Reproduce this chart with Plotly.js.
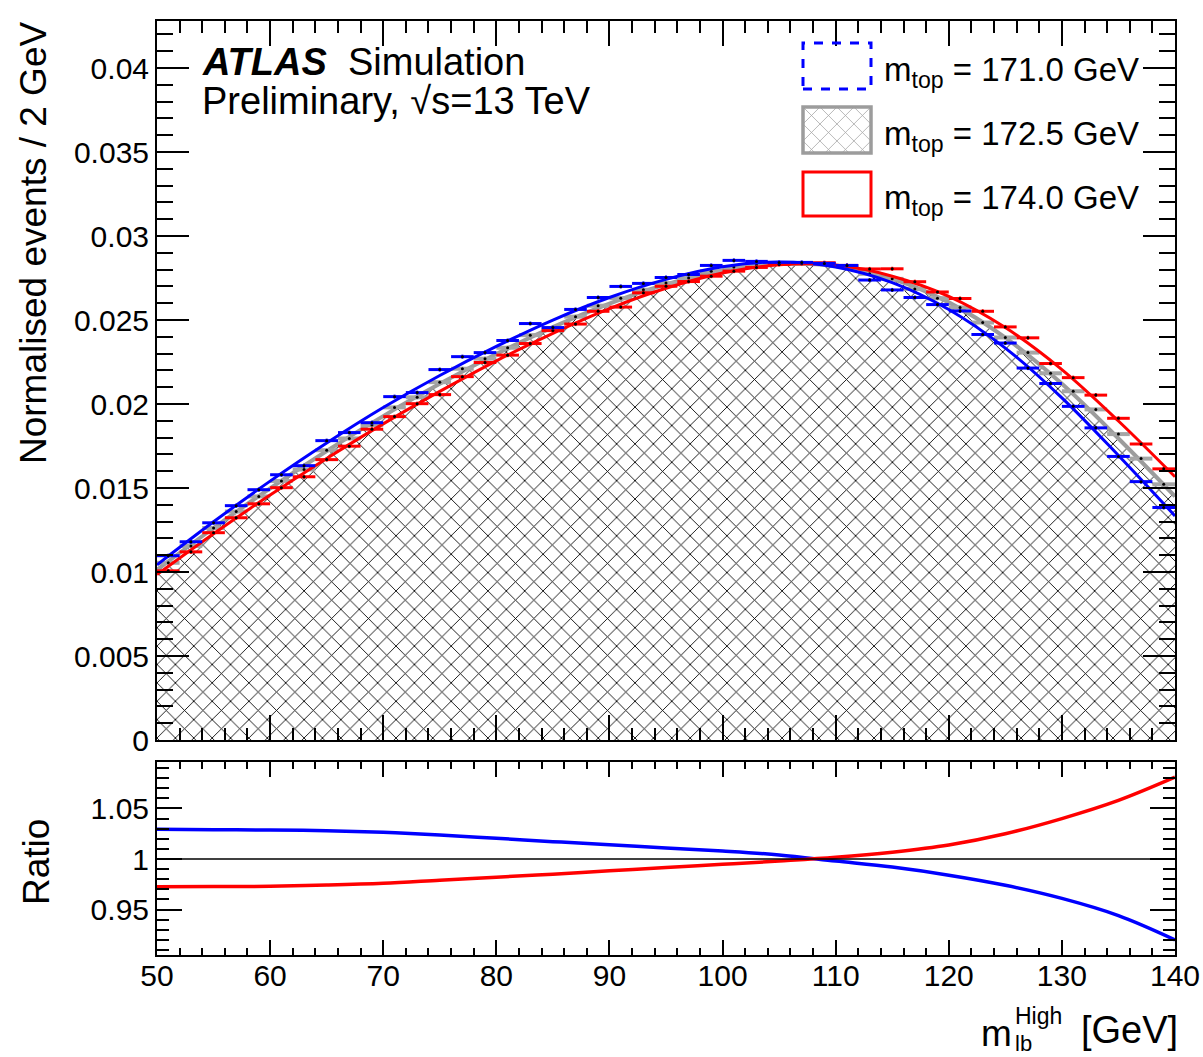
<!DOCTYPE html>
<html><head><meta charset="utf-8">
<script src="https://cdn.plot.ly/plotly-3.0.1.min.js"></script>
<style>html,body{margin:0;padding:0;background:#fff}</style>
</head><body><div id="chart" style="width:1203px;height:1057px"></div>
<script>
// ---------- data ----------
const binCenters = [51,53,55,57,59,61,63,65,67,69,71,73,75,77,79,81,83,85,87,89,91,93,95,97,99,101,103,105,107,109,111,113,115,117,119,121,123,125,127,129,131,133,135,137,139];
const halfBinWidth = 1;
const blue171 = [0.01097,0.01180,0.01293,0.01395,0.01490,0.01579,0.01633,0.01782,0.01830,0.01889,0.02044,0.02068,0.02205,0.02282,0.02306,0.02378,0.02479,0.02455,0.02563,0.02634,0.02700,0.02718,0.02753,0.02771,0.02825,0.02855,0.02849,0.02843,0.02843,0.02837,0.02825,0.02738,0.02679,0.02634,0.02592,0.02554,0.02414,0.02363,0.02214,0.02122,0.01986,0.01858,0.01688,0.01538,0.01384];
const gray1725 = [0.01055,0.01155,0.01262,0.01360,0.01450,0.01542,0.01610,0.01725,0.01795,0.01875,0.01980,0.02040,0.02130,0.02210,0.02270,0.02335,0.02410,0.02450,0.02520,0.02585,0.02630,0.02680,0.02720,0.02750,0.02790,0.02815,0.02828,0.02835,0.02835,0.02832,0.02820,0.02775,0.02745,0.02685,0.02630,0.02575,0.02485,0.02396,0.02306,0.02183,0.02076,0.01968,0.01821,0.01675,0.01522];
const red174 = [0.01007,0.01120,0.01234,0.01323,0.01406,0.01502,0.01567,0.01669,0.01749,0.01850,0.01925,0.02002,0.02056,0.02163,0.02247,0.02291,0.02360,0.02437,0.02476,0.02552,0.02577,0.02662,0.02701,0.02729,0.02761,0.02791,0.02813,0.02831,0.02837,0.02841,0.02825,0.02804,0.02805,0.02728,0.02667,0.02628,0.02552,0.02459,0.02394,0.02241,0.02157,0.02053,0.01915,0.01762,0.01614];
const statErr = 0.00012;

const fitX = [50,55,60,65,70,75,80,85,90,95,100,105,110,115,120,125,130,135,140];
const fitGray = [0.01013,0.01262,0.01498,0.01720,0.01928,0.02120,0.02298,0.02458,0.02598,0.02712,0.02795,0.02835,0.02822,0.02745,0.02605,0.02395,0.02120,0.01795,0.01450];
const fitBlue = [0.01043,0.01299,0.01541,0.01768,0.01979,0.02170,0.02343,0.02500,0.02634,0.02742,0.02817,0.02846,0.02816,0.02723,0.02563,0.02333,0.02037,0.01694,0.01334];
const fitRed  = [0.00985,0.01228,0.01458,0.01676,0.01882,0.02075,0.02257,0.02421,0.02568,0.02689,0.02780,0.02829,0.02827,0.02761,0.02641,0.02455,0.02205,0.01899,0.01567];
const ratioBlue = [1.0294,1.0290,1.0287,1.0280,1.0264,1.0238,1.0205,1.0172,1.0140,1.0110,1.0079,1.0040,0.9980,0.9920,0.9840,0.9740,0.9610,0.9440,0.9200];
const ratioRed  = [0.9726,0.9727,0.9730,0.9742,0.9760,0.9790,0.9820,0.9850,0.9884,0.9915,0.9947,0.9980,1.0017,1.0068,1.0139,1.0250,1.0400,1.0580,1.0810];

const legendLabels = ["m<sub>top</sub> = 171.0 GeV","m<sub>top</sub> = 172.5 GeV","m<sub>top</sub> = 174.0 GeV"];
const xTickStep = 10, yTickStep = 0.005, rTickStep = 0.05;

// ---------- layout helpers ----------
const L=157, R=1175, T=21, B=955;
const px = x => (x-L)/(R-L);
const py = y => (B-y)/(B-T);
const FONT = "Liberation Sans, Arial, Helvetica, sans-serif";
const BLUE = "#0000ff", RED = "#ff0000", GRAY = "#9c9c9c";

function pts(y, color, thick){
  return {x: binCenters, y: y, xaxis:'x2', yaxis:'y', type:'scatter', mode:'markers',
    marker:{size:3, color:'#000'},
    error_x:{type:'constant', value:halfBinWidth, color:color, thickness:thick, width:0},
    error_y:{type:'constant', value:statErr, color:color, thickness:2, width:0},
    hoverinfo:'skip', showlegend:false};
}
function fit(y, color, w, xa, ya){
  return {x: fitX, y: y, xaxis:xa, yaxis:ya, type:'scatter', mode:'lines',
    line:{color:color, width:w, shape:'spline', smoothing:1}, hoverinfo:'skip', showlegend:false};
}

const traces = [
  {x: fitX, y: fitGray, xaxis:'x2', yaxis:'y', type:'scatter', mode:'lines',
   line:{width:0, color:'rgba(0,0,0,0)', shape:'spline', smoothing:1}, fill:'tozeroy',
   fillpattern:{shape:'x', fgcolor:'#000000', bgcolor:'#ffffff', size:13, solidity:0.13},
   hoverinfo:'skip', showlegend:false},
  fit(fitGray, GRAY, 4, 'x2', 'y'),
  pts(gray1725, '#a6a6a6', 4),
  fit(fitRed, RED, 3, 'x2', 'y'),
  fit(fitBlue, BLUE, 3, 'x2', 'y'),
  pts(red174, RED, 3),
  pts(blue171, BLUE, 3),
  fit(ratioBlue, BLUE, 3.5, 'x', 'y2'),
  fit(ratioRed, RED, 3.5, 'x', 'y2'),
  // legend swatch for the hatched entry
  {x:[0,1,1,0], y:[0,0,1,1], xaxis:'x3', yaxis:'y3', type:'scatter', mode:'lines', fill:'toself',
   line:{width:0, color:'rgba(0,0,0,0)'},
   fillpattern:{shape:'x', fgcolor:'#a0a0a0', bgcolor:'#ffffff', size:12, solidity:0.12},
   hoverinfo:'skip', showlegend:false}
];

const tickfont = {family:FONT, size:30, color:'#000'};
const common = {showline:true, linewidth:2, linecolor:'#000', mirror:'ticks', showgrid:false, zeroline:false,
  ticks:'inside', tickwidth:2, tickcolor:'#000', tickfont:tickfont};

const layout = {
  width:1203, height:1057, margin:{l:L, r:1203-R, t:T, b:1057-B},
  paper_bgcolor:'#fff', plot_bgcolor:'rgba(0,0,0,0)', showlegend:false,
  font:{family:FONT, color:'#000'},
  xaxis: Object.assign({}, common, {domain:[0,1], anchor:'y2', range:[50,140], tick0:50, dtick:xTickStep, ticklen:15,
    ticklabelstandoff:-7,
    minor:{ticks:'inside', dtick:2, ticklen:7, tickwidth:2, tickcolor:'#000'}}),
  xaxis2: Object.assign({}, common, {domain:[0,1], anchor:'y', matches:'x', showticklabels:false, ticklen:25,
    minor:{ticks:'inside', dtick:2, ticklen:12, tickwidth:2, tickcolor:'#000'}}),
  yaxis: Object.assign({}, common, {domain:[py(740),1], anchor:'x2', range:[0,0.0428], tick0:0, dtick:yTickStep, ticklen:32,
    minor:{ticks:'inside', dtick:0.001, ticklen:16, tickwidth:2, tickcolor:'#000'}}),
  yaxis2: Object.assign({}, common, {domain:[0,py(761.7)], anchor:'x', range:[0.905,1.0963], tick0:1, dtick:rTickStep, ticklen:25,
    minor:{ticks:'inside', dtick:0.01, ticklen:12, tickwidth:2, tickcolor:'#000'}}),
  xaxis3:{domain:[px(803),px(871)], range:[0,1], visible:false, anchor:'y3', fixedrange:true},
  yaxis3:{domain:[py(153),py(107)], range:[0,1], visible:false, anchor:'x3', fixedrange:true},
  shapes:[
    {type:'line', xref:'x', yref:'y2', x0:50, x1:140, y0:1, y1:1, line:{color:'#000', width:1.5}},
    {type:'rect', xref:'paper', yref:'paper', x0:px(803), x1:px(871), y0:py(89), y1:py(43), line:{color:BLUE, width:3, dash:'dash'}, fillcolor:'rgba(0,0,0,0)'},
    {type:'rect', xref:'paper', yref:'paper', x0:px(803), x1:px(871), y0:py(153), y1:py(107), line:{color:GRAY, width:3.5}, fillcolor:'rgba(0,0,0,0)', layer:'above'},
    {type:'rect', xref:'paper', yref:'paper', x0:px(803), x1:px(871), y0:py(216), y1:py(172), line:{color:RED, width:3}, fillcolor:'rgba(0,0,0,0)'}
  ],
  annotations:[
    {xref:'paper', yref:'paper', x:px(200), y:py(62), xanchor:'left', yanchor:'middle', showarrow:false,
     text:'<b><i>ATLAS</i></b>\u00a0\u00a0Simulation', font:{family:FONT, size:38, color:'#000'}},
    {xref:'paper', yref:'paper', x:px(200), y:py(101), xanchor:'left', yanchor:'middle', showarrow:false,
     text:'Preliminary, \u221As=13 TeV', font:{family:FONT, size:38, color:'#000'}},
    {xref:'paper', yref:'paper', x:px(882), y:py(72), xanchor:'left', yanchor:'middle', showarrow:false,
     text:legendLabels[0], font:{family:FONT, size:33, color:'#000'}},
    {xref:'paper', yref:'paper', x:px(882), y:py(136), xanchor:'left', yanchor:'middle', showarrow:false,
     text:legendLabels[1], font:{family:FONT, size:33, color:'#000'}},
    {xref:'paper', yref:'paper', x:px(882), y:py(200), xanchor:'left', yanchor:'middle', showarrow:false,
     text:legendLabels[2], font:{family:FONT, size:33, color:'#000'}},
    {xref:'paper', yref:'paper', x:px(33), y:py(243), xanchor:'center', yanchor:'middle', showarrow:false, textangle:-90,
     text:'Normalised events / 2 GeV', font:{family:FONT, size:37, color:'#000'}},
    {xref:'paper', yref:'paper', x:px(36), y:py(862), xanchor:'center', yanchor:'middle', showarrow:false, textangle:-90,
     text:'Ratio', font:{family:FONT, size:37, color:'#000'}},
    {xref:'paper', yref:'paper', x:px(1180), y:py(1030), xanchor:'right', yanchor:'middle', showarrow:false,
     text:'[GeV]', font:{family:FONT, size:38, color:'#000'}},
    {xref:'paper', yref:'paper', x:px(1014), y:py(1033), xanchor:'right', yanchor:'middle', showarrow:false,
     text:'m', font:{family:FONT, size:37, color:'#000'}},
    {xref:'paper', yref:'paper', x:px(1013), y:py(1016), xanchor:'left', yanchor:'middle', showarrow:false,
     text:'High', font:{family:FONT, size:23, color:'#000'}},
    {xref:'paper', yref:'paper', x:px(1013), y:py(1043), xanchor:'left', yanchor:'middle', showarrow:false,
     text:'lb', font:{family:FONT, size:22, color:'#000'}}
  ]
};

Plotly.newPlot('chart', traces, layout, {displayModeBar:false, staticPlot:true});
</script>
</body></html>
